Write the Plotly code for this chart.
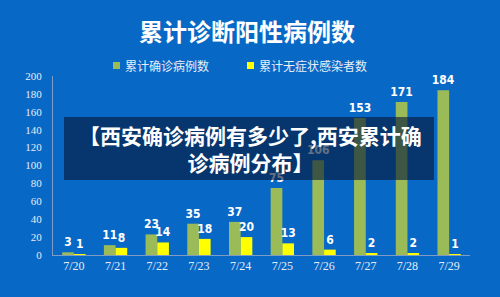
import plotly.graph_objects as go

dates = ["7/20", "7/21", "7/22", "7/23", "7/24", "7/25", "7/26", "7/27", "7/28", "7/29"]
confirmed = [3, 11, 23, 35, 37, 75, 106, 153, 171, 184]
asymptomatic = [1, 8, 14, 18, 20, 13, 6, 2, 2, 1]
y_ticks = [0, 20, 40, 60, 80, 100, 120, 140, 160, 180, 200]

title_text = "累计诊断阳性病例数"
name_confirmed = "累计确诊病例数"
name_asym = "累计无症状感染者数"
overlay_text = "【西安确诊病例有多少了,西安累计确<br>诊病例分布】"

GREEN = "#9bbb59"
YELLOW = "#ffff00"

W, H = 500, 297
L, R, T, B = 53, 30, 76, 42
pw, ph = W - L - R, H - T - B


def px(x):
    return (x - L) / pw


def py(y):
    return (H - B - y) / ph


label_font = dict(family="DejaVu Sans Condensed, Liberation Sans Narrow, Arial Narrow, sans-serif",
                  size=12, color="white", weight="bold")

fig = go.Figure()
fig.add_trace(go.Bar(
    x=dates, y=confirmed, name=name_confirmed,
    marker=dict(color=GREEN, line=dict(width=0)),
    text=[str(v) for v in confirmed], textposition="outside", constraintext="none",
    textfont=label_font, cliponaxis=False,
))
fig.add_trace(go.Bar(
    x=dates, y=asymptomatic, name=name_asym,
    marker=dict(color=YELLOW, line=dict(width=0)),
    text=[str(v) for v in asymptomatic], textposition="outside", constraintext="none",
    textfont=label_font, cliponaxis=False,
))

legend_font = dict(family="Noto Sans CJK SC", size=12, color="#e8eef8")

fig.update_layout(
    width=W, height=H,
    margin=dict(l=L, r=R, t=T, b=B),
    paper_bgcolor="#0868c6",
    plot_bgcolor="#0868c6",
    barmode="group",
    bargap=0.44,
    bargroupgap=0,
    showlegend=False,
    title=dict(text="<b>" + title_text + "</b>", x=0.494, xanchor="center",
               y=1 - 33 / H, yanchor="middle",
               font=dict(family="Noto Sans CJK SC", size=24, color="white")),
    xaxis=dict(
        showline=True, linecolor="#7f9cc4", linewidth=1,
        tickfont=dict(family="Liberation Serif, DejaVu Serif, serif", size=12, color="#e6ecf5"),
        ticks="", showgrid=False, zeroline=False,
    ),
    yaxis=dict(
        range=[0, 200], tickvals=y_ticks, showline=True, linecolor="#7f9cc4", linewidth=1,
        tickfont=dict(family="Liberation Serif, DejaVu Serif, serif", size=11, color="#e6ecf5"),
        ticks="", showgrid=False, zeroline=False, ticklabelstandoff=8,
    ),
    shapes=[
        dict(type="rect", xref="paper", yref="paper", x0=px(64), x1=px(434), y0=py(180), y1=py(117),
             fillcolor="rgba(5,25,55,0.62)", line=dict(width=0), layer="above"),
        dict(type="rect", xref="paper", yref="paper", x0=px(113), x1=px(120), y0=py(69), y1=py(62),
             fillcolor=GREEN, line=dict(width=0)),
        dict(type="rect", xref="paper", yref="paper", x0=px(247), x1=px(254), y0=py(69), y1=py(62),
             fillcolor=YELLOW, line=dict(width=0)),
    ],
    annotations=[
        dict(text=name_confirmed, xref="paper", yref="paper", x=px(123), y=py(66),
             xanchor="left", yanchor="middle", showarrow=False, font=legend_font),
        dict(text=name_asym, xref="paper", yref="paper", x=px(257), y=py(66),
             xanchor="left", yanchor="middle", showarrow=False, font=legend_font),
        dict(text="<b>" + overlay_text + "</b>", xref="paper", yref="paper",
             x=px(250), y=py(148), xanchor="center", yanchor="middle", showarrow=False,
             font=dict(family="Noto Sans CJK SC", size=21, color="white"), align="center"),
    ],
)

fig.write_html("out.html")
